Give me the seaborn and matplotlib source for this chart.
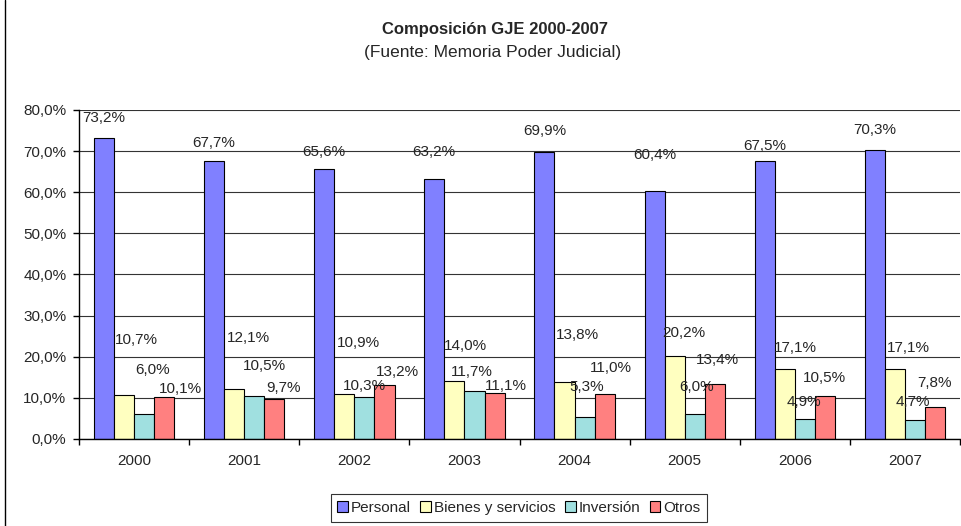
import matplotlib
matplotlib.use('Agg')
import matplotlib.pyplot as plt
from matplotlib.lines import Line2D
from matplotlib.ticker import FuncFormatter, FixedLocator
import seaborn as sns
import pandas as pd

years = ['2000', '2001', '2002', '2003', '2004', '2005', '2006', '2007']
series = ['Personal', 'Bienes y servicios', 'Inversión', 'Otros']
personal = [73.2, 67.7, 65.6, 63.2, 69.9, 60.4, 67.5, 70.3]
bienes = [10.7, 12.1, 10.9, 14.0, 13.8, 20.2, 17.1, 17.1]
inversion = [6.0, 10.5, 10.3, 11.7, 5.3, 6.0, 4.9, 4.7]
otros = [10.1, 9.7, 13.2, 11.1, 11.0, 13.4, 10.5, 7.8]

colors = ['#8080FF', '#FFFFC0', '#A0E0E0', '#FF8080']

# label placement (pixels from the top of each bar), as Excel left them
label_dy = [
    [20, 18, 17, 27, 21, 36, 15, 20],
    [55, 51, 51, 35, 47, 23, 21, 21],
    [44, 30, 11, 19, 30, 27, 17, 18],
    [8, 11, 13, 7, 26, 24, 18, 24],
]
label_dx = [
    [0, 0, 0, 0, 0, 0, 0, 0],
    [1, 3, 3, 0, 1, -2, -1, 2],
    [8, 10, 0, -3, 2, 2, -1, -2],
    [5, 2, 1, 0, -5, -9, -12, -8],
]
label_ha = ['center', 'left', 'center', 'left']

df = pd.DataFrame({
    'Año': years * 4,
    'Serie': [s for s in series for _ in years],
    'Valor': personal + bienes + inversion + otros,
})

sns.set_style('white')
plt.rcParams['font.family'] = ['Liberation Sans', 'DejaVu Sans']

fig = plt.figure(figsize=(9.62, 5.26), dpi=100)
ax = fig.add_axes([0.0821, 0.1654, 0.9159, 0.6255])

sns.barplot(data=df, x='Año', y='Valor', hue='Serie', palette=colors,
            width=0.73, gap=0, edgecolor='black', linewidth=0.8,
            saturation=1, legend=False, ax=ax)

ax.set_ylim(0, 80)
ax.set_xlim(-0.5, len(years) - 0.5)
ax.yaxis.set_major_locator(FixedLocator(range(0, 81, 10)))
ax.yaxis.set_major_formatter(FuncFormatter(lambda v, p: f'{v:.1f}%'.replace('.', ',')))
ax.grid(axis='y', color='#333333', linewidth=0.8)
ax.set_axisbelow(True)
ax.set_xlabel('')
ax.set_ylabel('')

for side in ['top', 'right']:
    ax.spines[side].set_visible(False)
for side in ['left', 'bottom']:
    ax.spines[side].set_color('black')
    ax.spines[side].set_linewidth(1.0)

ax.tick_params(axis='y', length=4, width=1, direction='out', pad=5,
               labelsize=11, left=True, color='black')
ax.tick_params(axis='x', which='major', length=0, pad=11, labelsize=11)
ax.xaxis.set_minor_locator(FixedLocator([i - 0.5 for i in range(len(years) + 1)]))
ax.tick_params(axis='x', which='minor', length=4, width=1, direction='out',
               bottom=True, color='black')

for k, cont in enumerate(ax.containers):
    for i, bar in enumerate(cont.patches):
        h = bar.get_height()
        if label_ha[k] == 'left':
            x = bar.get_x()
        else:
            x = bar.get_x() + bar.get_width() / 2
        ax.annotate(f'{h:.1f}%'.replace('.', ','), xy=(x, h),
                    xytext=(label_dx[k][i], label_dy[k][i]), textcoords='offset pixels',
                    ha=label_ha[k], va='center', fontsize=11, clip_on=False)

fig.text(0.515, 0.943, 'Composición GJE 2000-2007', ha='center', va='center',
         fontsize=12, fontweight='bold')
fig.text(0.512, 0.901, '(Fuente: Memoria Poder Judicial)', ha='center', va='center',
         fontsize=12.5)

handles = [plt.Rectangle((0, 0), 1, 1, facecolor=c, edgecolor='black', linewidth=0.8)
           for c in colors]
leg = fig.legend(handles, series, loc='center', bbox_to_anchor=(0.5395, 0.034),
                 ncol=4, frameon=True, fancybox=False, edgecolor='black',
                 fontsize=11, handlelength=0.7, handleheight=0.7,
                 handletextpad=0.2, columnspacing=0.6, borderpad=0.45,
                 borderaxespad=0)
leg.get_frame().set_linewidth(0.8)

# chart area border on the left
fig.add_artist(Line2D([5 / 962, 5 / 962], [0, 1], color='black', linewidth=1,
                      transform=fig.transFigure))

fig.savefig('out.png', dpi=100)
